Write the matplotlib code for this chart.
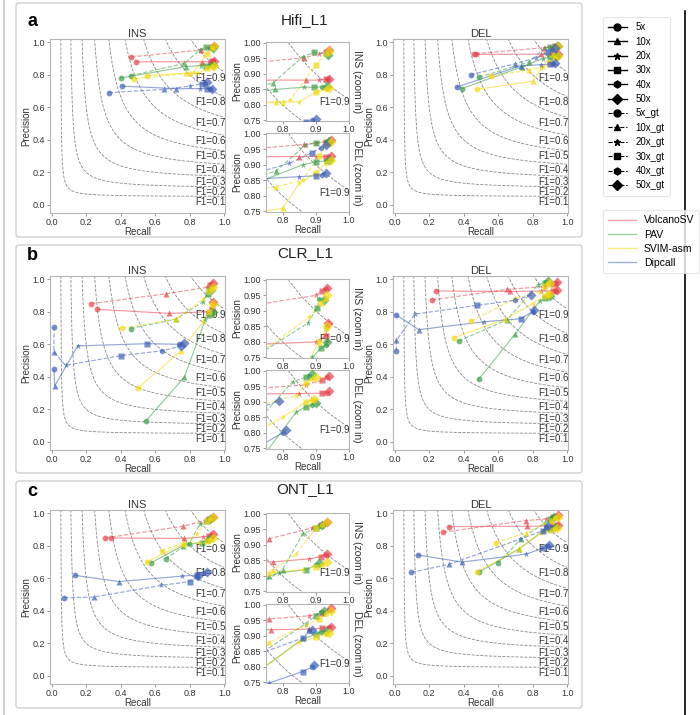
import matplotlib
matplotlib.use('Agg')
import numpy as np
import matplotlib.pyplot as plt
from matplotlib.lines import Line2D
from matplotlib.patches import FancyBboxPatch

plt.rcParams['font.family'] = ['Liberation Sans', 'DejaVu Sans']

FONT_SIZE = 7
TICK_SIZE = 6.5
W, H = 700, 715

COVERAGES = ['5x', '10x', '20x', '30x', '40x', '50x']
MARKERS = ['o', '^', '*', 's', 'h', 'D']
MSIZES = [4.2, 4, 5, 3.8, 4.2, 5]
TOOLS = ['VolcanoSV', 'PAV', 'SVIM-asm', 'Dipcall']
COLORS = ['#e5434c', '#3c9f48', '#f3d90a', '#3d5fb8']
F1_LEVELS = [0.1, 0.2, 0.3, 0.4, 0.5, 0.6, 0.7, 0.8, 0.9]
ROW_NAMES = ['Hifi_L1', 'CLR_L1', 'ONT_L1']

# (recall, precision) for 5x, 10x, 20x, 30x, 40x, 50x
# ---- Hifi_L1 ----
hifi_ins_volcanosv = [(0.49, 0.88), (0.87, 0.88), (0.91, 0.88), (0.93, 0.882), (0.936, 0.882), (0.94, 0.883)]
hifi_ins_volcanosv_gt = [(0.46, 0.91), (0.865, 0.952), (0.91, 0.965), (0.93, 0.972), (0.935, 0.975), (0.94, 0.978)]
hifi_ins_pav = [(0.40, 0.78), (0.776, 0.85), (0.865, 0.857), (0.896, 0.857), (0.92, 0.858), (0.935, 0.86)]
hifi_ins_pav_gt = [(0.46, 0.795), (0.77, 0.87), (0.86, 0.955), (0.895, 0.97), (0.93, 0.965), (0.938, 0.962)]
hifi_ins_svim = [(0.55, 0.795), (0.78, 0.81), (0.85, 0.81), (0.90, 0.84), (0.93, 0.85), (0.94, 0.855)]
hifi_ins_svim_gt = [(0.48, 0.776), (0.80, 0.81), (0.823, 0.815), (0.90, 0.93), (0.93, 0.965), (0.94, 0.975)]
hifi_ins_dipcall = [(0.41, 0.73), (0.72, 0.715), (0.86, 0.715), (0.90, 0.715), (0.92, 0.715), (0.93, 0.715)]
hifi_ins_dipcall_gt = [(0.33, 0.69), (0.65, 0.71), (0.80, 0.73), (0.87, 0.745), (0.89, 0.75), (0.90, 0.755)]

hifi_del_volcanosv = [(0.46, 0.925), (0.85, 0.927), (0.90, 0.927), (0.93, 0.927), (0.94, 0.927), (0.946, 0.928)]
hifi_del_volcanosv_gt = [(0.47, 0.93), (0.865, 0.966), (0.90, 0.97), (0.93, 0.975), (0.94, 0.978), (0.946, 0.98)]
hifi_del_pav = [(0.39, 0.715), (0.74, 0.85), (0.86, 0.90), (0.90, 0.91), (0.93, 0.913), (0.94, 0.915)]
hifi_del_pav_gt = [(0.49, 0.785), (0.78, 0.88), (0.87, 0.965), (0.90, 0.972), (0.93, 0.975), (0.94, 0.978)]
hifi_del_svim = [(0.48, 0.71), (0.80, 0.76), (0.85, 0.84), (0.90, 0.875), (0.93, 0.905), (0.946, 0.915)]
hifi_del_svim_gt = [(0.56, 0.79), (0.78, 0.83), (0.86, 0.85), (0.91, 0.93), (0.93, 0.965), (0.946, 0.975)]
hifi_del_dipcall = [(0.36, 0.725), (0.73, 0.855), (0.85, 0.862), (0.90, 0.865), (0.92, 0.868), (0.93, 0.875)]
hifi_del_dipcall_gt = [(0.44, 0.80), (0.70, 0.868), (0.82, 0.905), (0.89, 0.94), (0.915, 0.955), (0.93, 0.965)]

# ---- CLR_L1 ----
clr_ins_volcanosv = [(0.265, 0.815), (0.68, 0.79), (0.90, 0.80), (0.93, 0.82), (0.935, 0.85), (0.937, 0.86)]
clr_ins_volcanosv_gt = [(0.23, 0.85), (0.66, 0.91), (0.90, 0.95), (0.92, 0.965), (0.93, 0.97), (0.935, 0.975)]
clr_ins_pav = [(0.545, 0.127), (0.77, 0.40), (0.89, 0.75), (0.915, 0.78), (0.93, 0.79), (0.935, 0.80)]
clr_ins_pav_gt = [(0.457, 0.697), (0.72, 0.754), (0.875, 0.86), (0.905, 0.91), (0.91, 0.94), (0.925, 0.935)]
clr_ins_svim = [(0.50, 0.33), (0.75, 0.56), (0.88, 0.74), (0.91, 0.80), (0.93, 0.84), (0.935, 0.85)]
clr_ins_svim_gt = [(0.41, 0.70), (0.72, 0.755), (0.88, 0.88), (0.915, 0.925), (0.93, 0.94), (0.935, 0.95)]
clr_ins_dipcall = [(0.013, 0.446), (0.017, 0.343), (0.15, 0.59), (0.554, 0.604), (0.74, 0.60), (0.765, 0.61)]
clr_ins_dipcall_gt = [(0.013, 0.706), (0.013, 0.555), (0.08, 0.47), (0.40, 0.53), (0.64, 0.56), (0.752, 0.59)]

clr_del_volcanosv = [(0.241, 0.928), (0.67, 0.925), (0.85, 0.927), (0.92, 0.928), (0.935, 0.93), (0.94, 0.935)]
clr_del_volcanosv_gt = [(0.216, 0.873), (0.654, 0.938), (0.87, 0.955), (0.92, 0.97), (0.935, 0.98), (0.94, 0.985)]
clr_del_pav = [(0.486, 0.384), (0.70, 0.665), (0.84, 0.866), (0.87, 0.885), (0.89, 0.89), (0.90, 0.895)]
clr_del_pav_gt = [(0.37, 0.62), (0.65, 0.75), (0.83, 0.965), (0.87, 0.98), (0.88, 0.985), (0.89, 0.99)]
clr_del_svim = [(0.342, 0.64), (0.64, 0.754), (0.80, 0.85), (0.87, 0.90), (0.89, 0.905), (0.895, 0.91)]
clr_del_svim_gt = [(0.444, 0.743), (0.70, 0.883), (0.84, 0.92), (0.87, 0.96), (0.89, 0.975), (0.90, 0.98)]
clr_del_dipcall = [(0.01, 0.78), (0.139, 0.69), (0.52, 0.739), (0.73, 0.757), (0.80, 0.80), (0.81, 0.81)]
clr_del_dipcall_gt = [(0.01, 0.56), (0.01, 0.624), (0.116, 0.785), (0.477, 0.84), (0.70, 0.87), (0.79, 0.903)]

# ---- ONT_L1 ----
ont_ins_volcanosv = [(0.344, 0.848), (0.77, 0.845), (0.88, 0.855), (0.915, 0.862), (0.93, 0.868), (0.935, 0.87)]
ont_ins_volcanosv_gt = [(0.31, 0.848), (0.76, 0.92), (0.89, 0.955), (0.915, 0.965), (0.93, 0.97), (0.935, 0.975)]
ont_ins_pav = [(0.575, 0.695), (0.76, 0.80), (0.79, 0.81), (0.87, 0.82), (0.90, 0.835), (0.91, 0.84)]
ont_ins_pav_gt = [(0.66, 0.72), (0.80, 0.82), (0.86, 0.935), (0.90, 0.955), (0.91, 0.96), (0.92, 0.965)]
ont_ins_svim = [(0.55, 0.70), (0.76, 0.81), (0.86, 0.82), (0.90, 0.83), (0.92, 0.835), (0.935, 0.845)]
ont_ins_svim_gt = [(0.637, 0.77), (0.77, 0.82), (0.84, 0.87), (0.90, 0.955), (0.92, 0.965), (0.935, 0.975)]
ont_ins_dipcall = [(0.135, 0.618), (0.39, 0.58), (0.753, 0.613), (0.84, 0.62), (0.88, 0.635), (0.90, 0.64)]
ont_ins_dipcall_gt = [(0.073, 0.48), (0.245, 0.485), (0.633, 0.556), (0.80, 0.58), (0.84, 0.61), (0.85, 0.615)]

ont_del_volcanosv = [(0.315, 0.918), (0.766, 0.92), (0.88, 0.922), (0.92, 0.925), (0.94, 0.928), (0.946, 0.93)]
ont_del_volcanosv_gt = [(0.28, 0.883), (0.759, 0.955), (0.88, 0.965), (0.92, 0.975), (0.94, 0.985), (0.946, 0.99)]
ont_del_pav = [(0.488, 0.637), (0.72, 0.78), (0.86, 0.89), (0.90, 0.905), (0.915, 0.912), (0.93, 0.915)]
ont_del_pav_gt = [(0.598, 0.692), (0.73, 0.84), (0.87, 0.94), (0.90, 0.965), (0.915, 0.978), (0.925, 0.98)]
ont_del_svim = [(0.48, 0.64), (0.72, 0.78), (0.85, 0.88), (0.90, 0.895), (0.93, 0.905), (0.94, 0.91)]
ont_del_svim_gt = [(0.585, 0.82), (0.76, 0.88), (0.87, 0.935), (0.91, 0.955), (0.93, 0.97), (0.946, 0.98)]
ont_del_dipcall = [(0.135, 0.743), (0.39, 0.70), (0.76, 0.748), (0.86, 0.785), (0.89, 0.80), (0.894, 0.805)]
ont_del_dipcall_gt = [(0.097, 0.637), (0.313, 0.685), (0.724, 0.84), (0.86, 0.893), (0.88, 0.915), (0.89, 0.92)]

# row -> sv type -> list of (tool series, gt series) in TOOLS order
ROWS = [
    {'INS': [(hifi_ins_volcanosv, hifi_ins_volcanosv_gt), (hifi_ins_pav, hifi_ins_pav_gt),
             (hifi_ins_svim, hifi_ins_svim_gt), (hifi_ins_dipcall, hifi_ins_dipcall_gt)],
     'DEL': [(hifi_del_volcanosv, hifi_del_volcanosv_gt), (hifi_del_pav, hifi_del_pav_gt),
             (hifi_del_svim, hifi_del_svim_gt), (hifi_del_dipcall, hifi_del_dipcall_gt)]},
    {'INS': [(clr_ins_volcanosv, clr_ins_volcanosv_gt), (clr_ins_pav, clr_ins_pav_gt),
             (clr_ins_svim, clr_ins_svim_gt), (clr_ins_dipcall, clr_ins_dipcall_gt)],
     'DEL': [(clr_del_volcanosv, clr_del_volcanosv_gt), (clr_del_pav, clr_del_pav_gt),
             (clr_del_svim, clr_del_svim_gt), (clr_del_dipcall, clr_del_dipcall_gt)]},
    {'INS': [(ont_ins_volcanosv, ont_ins_volcanosv_gt), (ont_ins_pav, ont_ins_pav_gt),
             (ont_ins_svim, ont_ins_svim_gt), (ont_ins_dipcall, ont_ins_dipcall_gt)],
     'DEL': [(ont_del_volcanosv, ont_del_volcanosv_gt), (ont_del_pav, ont_del_pav_gt),
             (ont_del_svim, ont_del_svim_gt), (ont_del_dipcall, ont_del_dipcall_gt)]},
]


def px_axes(fig, x0, y0, x1, y1):
    return fig.add_axes([x0 / W, 1 - y1 / H, (x1 - x0) / W, (y1 - y0) / H])


def style_axes(ax):
    for s in ax.spines.values():
        s.set_color('#b5b5b5')
        s.set_linewidth(0.8)
    ax.tick_params(labelsize=TICK_SIZE, length=2, width=0.6, color='#888888', pad=1.5, labelcolor='#333333')


def draw_f1(ax, zoom=False):
    for f in F1_LEVELS:
        r = np.linspace(f * 1.05 / (2.1 - f), 1.0, 300)
        p = f * r / (2 * r - f)
        ax.plot(r, p, ls='--', color='#888888', lw=0.6, zorder=1)
        if not zoom:
            ax.text(0.83, f / (2 - f) - 0.035, f'F1={f:.1f}', fontsize=FONT_SIZE, va='center', color='#333333')
    if zoom:
        ax.text(0.91, 0.81, 'F1=0.9', fontsize=FONT_SIZE, va='center', color='#333333')


def draw_series(ax, pts, color, ls):
    r = [p[0] for p in pts]
    pr = [p[1] for p in pts]
    ax.plot(r, pr, color=color, ls=ls, lw=0.85, alpha=0.55, zorder=2)
    for i in range(len(pts)):
        ax.plot(r[i], pr[i], marker=MARKERS[i], ms=MSIZES[i], color=color, mec='none', alpha=0.7, ls='none', zorder=3)


def draw_all(ax, series):
    for (sol, gt), color in zip(series, COLORS):
        draw_series(ax, sol, color, '-')
        draw_series(ax, gt, color, '--')


fig = plt.figure(figsize=(W / 100, H / 100), dpi=100)

# row frames and page lines
boxes = [(3, 237), (245, 473), (481, 708)]
for (t, b) in boxes:
    fig.patches.append(FancyBboxPatch((16 / W, 1 - b / H), (582 - 16) / W, (b - t) / H,
                                      boxstyle='round,pad=0,rounding_size=0.004', transform=fig.transFigure,
                                      fc='none', ec='#d0d0d0', lw=1.0))
fig.add_artist(Line2D([4 / W, 4 / W], [0, 1], color='#c8c8c8', lw=1.2, transform=fig.transFigure))
fig.add_artist(Line2D([685 / W, 685 / W], [0, 1 - 11 / H], color='black', lw=1.2, transform=fig.transFigure))

row_tops = [39, 276, 510]
title_y = [20, 253, 489]
letters = ['a', 'b', 'c']
for k, top in enumerate(row_tops):
    fig.text(305 / W, 1 - title_y[k] / H, ROW_NAMES[k], fontsize=11, ha='center', va='center', color='#222222')
    fig.text(32 / W, 1 - (title_y[k] + 2) / H, letters[k], fontsize=13, fontweight='bold', ha='center', va='center')

    for sv, x0 in [('INS', 50), ('DEL', 393)]:
        ax = px_axes(fig, x0, top, x0 + 175, top + 174)
        draw_f1(ax)
        draw_all(ax, ROWS[k][sv])
        ax.set_xlim(-0.01, 1.005)
        ax.set_ylim(-0.05, 1.02)
        ax.set_xticks(np.arange(0, 1.01, 0.2))
        ax.set_yticks(np.arange(0, 1.01, 0.2))
        ax.xaxis.set_major_formatter(matplotlib.ticker.FormatStrFormatter('%.1f'))
        ax.yaxis.set_major_formatter(matplotlib.ticker.FormatStrFormatter('%.1f'))
        ax.set_title(sv, fontsize=8, pad=1, color='#333333')
        ax.set_xlabel('Recall', fontsize=FONT_SIZE, labelpad=0, color='#333333')
        ax.set_ylabel('Precision', fontsize=FONT_SIZE, labelpad=1, color='#333333')
        style_axes(ax)

    for j, sv in enumerate(['INS', 'DEL']):
        y0 = top + 3 if j == 0 else top + 94
        ax = px_axes(fig, 266, y0, 349, y0 + 79)
        ax.patch.set_alpha(0)
        draw_f1(ax, zoom=True)
        draw_all(ax, ROWS[k][sv])
        ax.set_xlim(0.75, 1.0)
        ax.set_ylim(0.748, 1.003)
        ax.set_xticks([0.8, 0.9, 1.0])
        ax.set_yticks([0.75, 0.80, 0.85, 0.90, 0.95, 1.00])
        ax.xaxis.set_major_formatter(matplotlib.ticker.FormatStrFormatter('%.1f'))
        ax.yaxis.set_major_formatter(matplotlib.ticker.FormatStrFormatter('%.2f'))
        ax.set_ylabel('Precision', fontsize=FONT_SIZE, labelpad=1, color='#333333')
        if j == 1:
            ax.set_xlabel('Recall', fontsize=FONT_SIZE, labelpad=0, color='#333333')
        ax.text(1.04, 0.5, f'{sv} (zoom in)', rotation=270, fontsize=7.5, transform=ax.transAxes,
                va='center', ha='left', color='#333333')
        style_axes(ax)
        ax.tick_params(axis='x', pad=1)

# legends
cov_handles = []
for i, c in enumerate(COVERAGES):
    cov_handles.append(Line2D([], [], color='black', ls='-', lw=1, marker=MARKERS[i], ms=5, label=c))
for i, c in enumerate(COVERAGES):
    cov_handles.append(Line2D([], [], color='black', ls='--', lw=0.8, marker=MARKERS[i], ms=5, label=c + '_gt'))
leg1 = fig.legend(handles=cov_handles, loc='upper left', bbox_to_anchor=(598 / W, 1 - 12 / H),
                  fontsize=FONT_SIZE, frameon=True, handlelength=1.9, labelspacing=0.45, borderpad=0.55,
                  handletextpad=0.9)
leg1.get_frame().set_edgecolor('#e0e0e0')
leg1.get_frame().set_linewidth(0.8)

tool_handles = [Line2D([], [], color=c, lw=1, alpha=0.5, label=t) for t, c in zip(TOOLS, COLORS)]
leg2 = fig.legend(handles=tool_handles, loc='upper left', bbox_to_anchor=(598 / W, 1 - 205 / H),
                  fontsize=FONT_SIZE + 0.5, frameon=True, handlelength=2.6, labelspacing=0.4, borderpad=0.5)
leg2.get_frame().set_edgecolor('#e0e0e0')
leg2.get_frame().set_linewidth(0.8)

fig.savefig('out.png', dpi=100, facecolor='white')
